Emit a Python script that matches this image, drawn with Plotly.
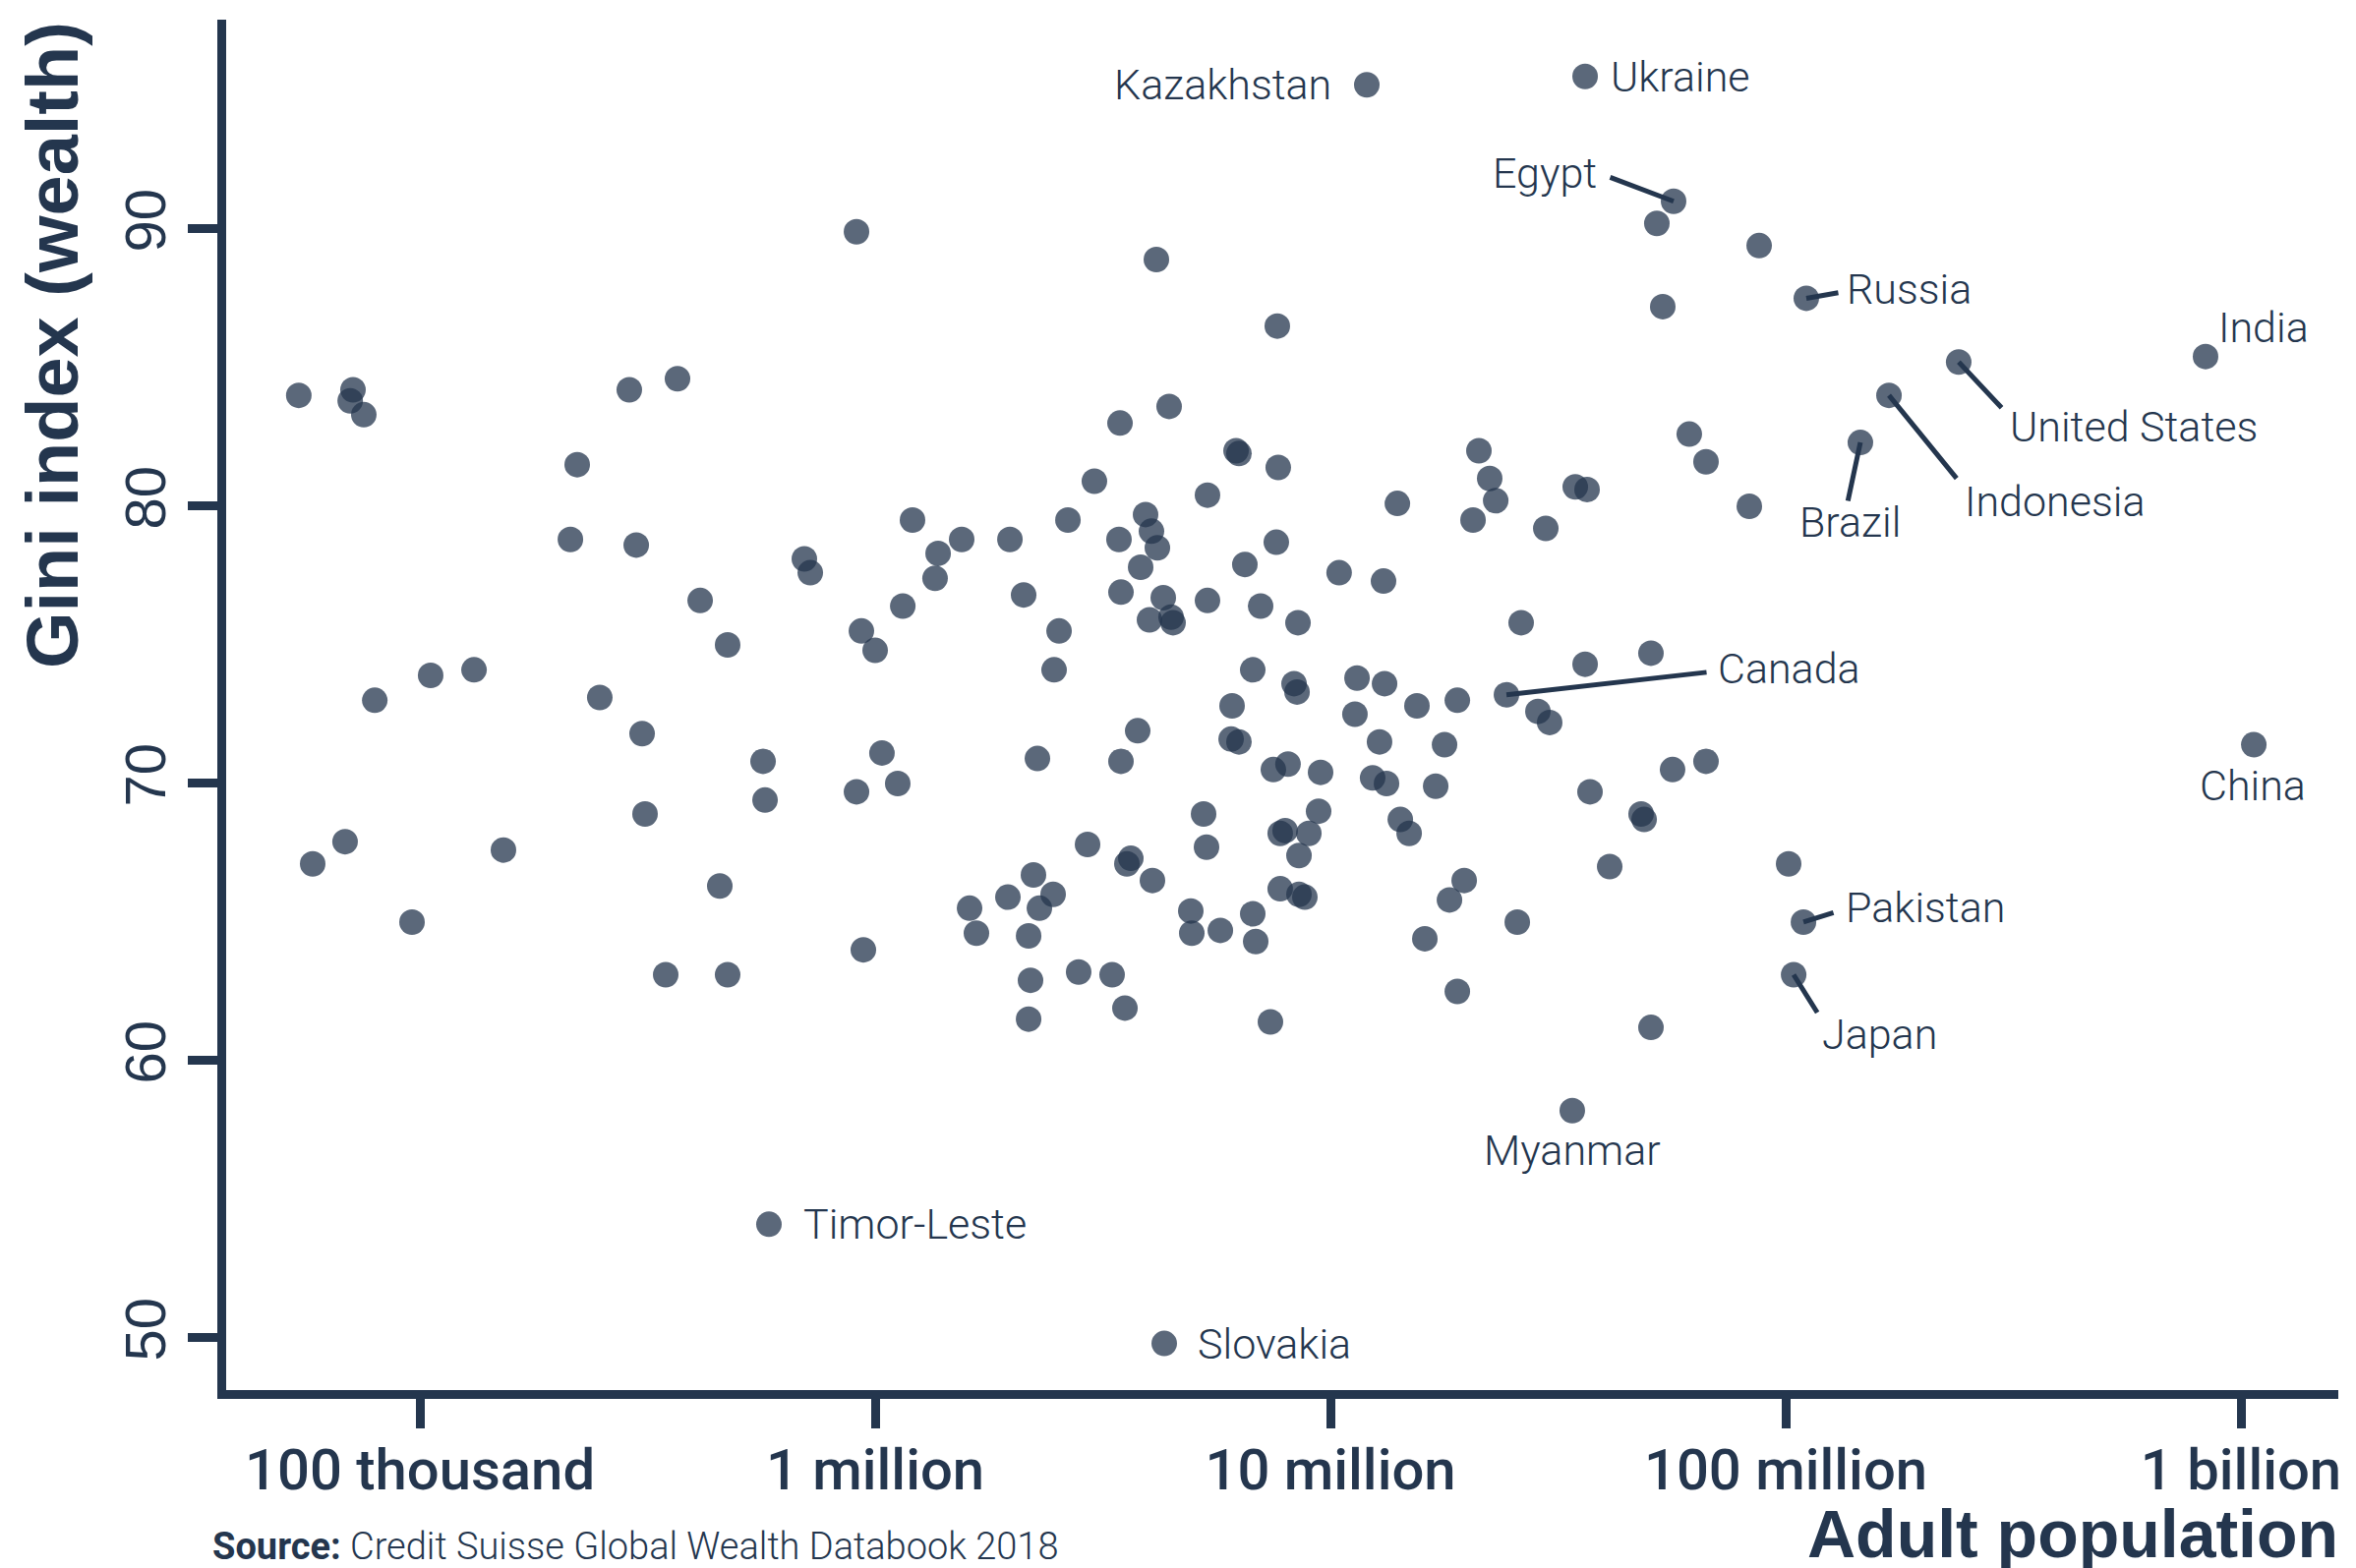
import math
import plotly.graph_objects as go

# ---- data: adult population (number of adults) and wealth Gini index ----
population = [
    54200, 71300, 70300, 75300, 288400, 368000, 221600, 214100, 298700, 412700,
    474200, 79600, 105600, 131500, 248400, 307700, 567300, 573000, 312300, 58150,
    68500, 152600, 455800, 96100, 346700, 474200,
    910000, 4147000, 7644000, 4423000, 3450000, 6205000, 6297000, 7681000, 3031000, 5370000,
    21190000, 22380000, 23070000, 34500000, 36620000,
    699000, 720300, 1208000, 1375000, 1354000, 1549000, 1977000, 2651000, 1150000, 932800,
    1000000, 2119000, 2535000, 2472000, 3432000, 3926000, 4045000, 4168000, 3830000, 3467000,
    4294000, 4005000, 4467000, 4512000, 5370000, 6487000, 7606000, 7025000, 8487000, 10450000,
    13080000, 14030000, 20570000, 29720000, 26240000, 36260000, 6751000, 8320000, 8446000, 11440000,
    13150000, 6081000, 11320000, 15490000, 19000000, 28560000, 30310000, 3773000, 6052000, 6297000,
    12820000, 17810000, 1035000, 2272000, 3467000, 7493000, 8070000, 9515000, 12380000, 13280000,
    17030000, 37170000, 910000, 1121000, 5265000, 9420000, 7757000, 7953000, 8966000, 8530000,
    14240000, 14890000, 5344000, 2928000, 3644000, 3572000, 4065000, 2227000, 2460000, 2295000,
    1957000, 1612000, 1669000, 2173000, 942100, 4935000, 6751000, 4960000, 5731000, 6853000,
    7757000, 8530000, 8787000, 19670000, 18260000, 25730000, 16120000, 19000000, 2194000, 2799000,
    3315000, 3537000, 2173000, 7383000,
    52120000, 87440000, 53700000, 61410000, 66830000, 83200000, 50590000, 66830000, 56430000, 48130000,
    48870000, 41060000, 101500000, 50590000,
]
gini = [
    84.0, 84.2, 83.8, 83.3, 84.2, 84.6, 81.5, 78.8, 78.6, 76.6,
    75.0, 73.0, 73.9, 74.1, 73.1, 71.8, 70.8, 69.4, 68.9, 67.1,
    67.9, 67.6, 66.3, 65.0, 63.1, 63.1,
    89.9, 88.9, 86.5, 83.6, 83.0, 82.0, 81.9, 81.4, 80.9, 80.4,
    82.0, 81.0, 80.2, 80.7, 80.6,
    78.1, 77.6, 79.5, 78.3, 77.4, 78.8, 78.8, 79.5, 76.4, 75.5,
    74.8, 76.8, 75.5, 74.1, 78.8, 79.7, 79.1, 78.5, 77.8, 76.9,
    76.7, 75.9, 76.0, 75.8, 76.6, 77.9, 78.7, 76.4, 75.8, 77.6,
    77.3, 80.1, 79.5, 79.2, 75.8, 74.3, 74.1, 73.6, 73.3, 73.8,
    73.6, 72.8, 72.5, 72.8, 73.0, 72.6, 72.2, 71.9, 71.6, 71.5,
    71.5, 71.4, 71.1, 70.9, 70.8, 70.5, 70.7, 70.4, 70.2, 70.0,
    69.9, 69.7, 69.7, 70.0, 68.9, 69.0, 68.2, 68.3, 68.2, 67.4,
    68.7, 68.2, 67.7, 67.8, 67.3, 67.1, 66.5, 66.7, 66.0, 65.5,
    65.9, 65.5, 64.6, 64.5, 64.0, 65.4, 65.3, 64.6, 64.7, 64.3,
    66.2, 66.0, 65.9, 66.5, 65.8, 65.0, 64.4, 62.5, 62.9, 63.2,
    63.1, 61.9, 61.5, 61.4,
    90.2, 89.4, 87.2, 82.6, 81.6, 80.0, 74.7, 70.8, 70.5, 68.9,
    68.7, 67.0, 67.1, 61.2,
]

# labelled countries
label_names = ["Kazakhstan", "Ukraine", "Egypt", "Russia", "India", "United States",
               "Indonesia", "Brazil", "Canada", "China", "Pakistan", "Japan",
               "Myanmar", "Timor-Leste", "Slovakia"]
label_population = [12020000, 36260000, 56720000, 111000000, 836000000, 239900000,
                    168600000, 145900000, 24360000, 1067000000, 109400000, 104100000,
                    33980000, 584400, 4315000]
label_gini = [95.2, 95.5, 91.0, 87.5, 85.4, 85.2, 84.0, 82.3, 73.2, 71.4, 65.0, 63.1,
              58.2, 54.1, 49.8]

x_tickvals = [1e5, 1e6, 1e7, 1e8, 1e9]
x_ticktext = ["100 thousand", "1 million", "10 million", "100 million", "1 billion"]
y_tickvals = [50, 60, 70, 80, 90]

# ---- styling ----
NAVY = "rgb(36,54,78)"
DOT = "rgba(36,54,78,0.75)"
LABEL_FONT = dict(family="Roboto", size=43, color=NAVY, weight=300)

# label placement: xanchor, xshift, yshift, leader line tail offset (px) or None
label_style = {
    "Kazakhstan": ("right", -34, 0, None),
    "Ukraine": ("left", 24, 0, None),
    "Egypt": ("right", -76, 29, (-66, -25)),
    "Russia": ("left", 39, 9, (34, -6)),
    "India": ("left", 11, 30, None),
    "United States": ("left", 50, -66, (45, 48)),
    "Indonesia": ("left", 75, -108, (70, 86)),
    "Brazil": ("center", -10, -81, (-13, 61)),
    "Canada": ("left", 213, 27, (205, -23)),
    "China": ("center", -1, -42, None),
    "Pakistan": ("left", 41, 15, (32, -10)),
    "Japan": ("left", 27, -60, (25, 40)),
    "Myanmar": ("center", 0, -40, None),
    "Timor-Leste": ("left", 33, 0, None),
    "Slovakia": ("left", 32, 0, None),
}

fig = go.Figure()
fig.add_trace(go.Scatter(
    x=population + label_population,
    y=gini + label_gini,
    mode="markers",
    marker=dict(size=26, color=DOT, line=dict(width=0)),
    hoverinfo="skip",
    showlegend=False,
))

annotations = []
for name, pop, g in zip(label_names, label_population, label_gini):
    xa, xs, ys, arrow = label_style[name]
    lx = math.log10(pop)
    if arrow is not None:
        annotations.append(dict(
            x=lx, y=g, xref="x", yref="y", text="", showarrow=True,
            arrowhead=0, arrowwidth=5, arrowcolor=NAVY, standoff=0,
            ax=arrow[0], ay=arrow[1], axref="pixel", ayref="pixel",
        ))
    annotations.append(dict(
        x=lx, y=g, xref="x", yref="y", text=name, showarrow=False,
        xanchor=xa, yanchor="middle", xshift=xs, yshift=ys, font=LABEL_FONT,
    ))

W, H = 2396, 1595
L, R, T, B = 222, 26, 12, 189
pw, ph = W - L - R, H - T - B


def px_x(px):
    return (px - L) / pw


def px_y(py):
    return (H - B - py) / ph


annotations.append(dict(
    text="<b>Gini index (wealth)</b>", textangle=-90, xref="paper", yref="paper",
    x=px_x(45), y=px_y(12), xanchor="center", yanchor="top", showarrow=False,
    font=dict(family="Liberation Sans", size=74, color=NAVY),
))
annotations.append(dict(
    text="<b>Adult population</b>", xref="paper", yref="paper",
    x=px_x(2372), y=px_y(1592), xanchor="right", yanchor="bottom", showarrow=False,
    font=dict(family="Liberation Sans", size=68, color=NAVY),
))
annotations.append(dict(
    text="<b>Source:</b> Credit Suisse Global Wealth Databook 2018", xref="paper", yref="paper",
    x=px_x(206), y=px_y(1589), xanchor="left", yanchor="bottom", showarrow=False,
    font=dict(family="Roboto", size=38, color=NAVY, weight=300),
))

fig.update_layout(
    width=W, height=H,
    margin=dict(l=L, r=R, t=T, b=B, pad=0),
    paper_bgcolor="white", plot_bgcolor="white",
    annotations=annotations,
    xaxis=dict(
        type="log", range=[4.5745, 9.2138],
        tickvals=x_tickvals, ticktext=x_ticktext,
        showgrid=False, zeroline=False,
        showline=True, linewidth=9, linecolor=NAVY,
        ticks="outside", ticklen=30, tickwidth=9, tickcolor=NAVY,
        ticklabelstandoff=-8,
        tickfont=dict(family="Roboto", size=58, color=NAVY, weight=500),
    ),
    yaxis=dict(
        range=[48.12, 97.55],
        tickvals=y_tickvals,
        showgrid=False, zeroline=False,
        showline=True, linewidth=9, linecolor=NAVY,
        ticks="outside", ticklen=30, tickwidth=9, tickcolor=NAVY,
        tickangle=-90,
        tickfont=dict(family="Liberation Sans", size=58, color=NAVY),
    ),
)

fig.write_html("out.html")
